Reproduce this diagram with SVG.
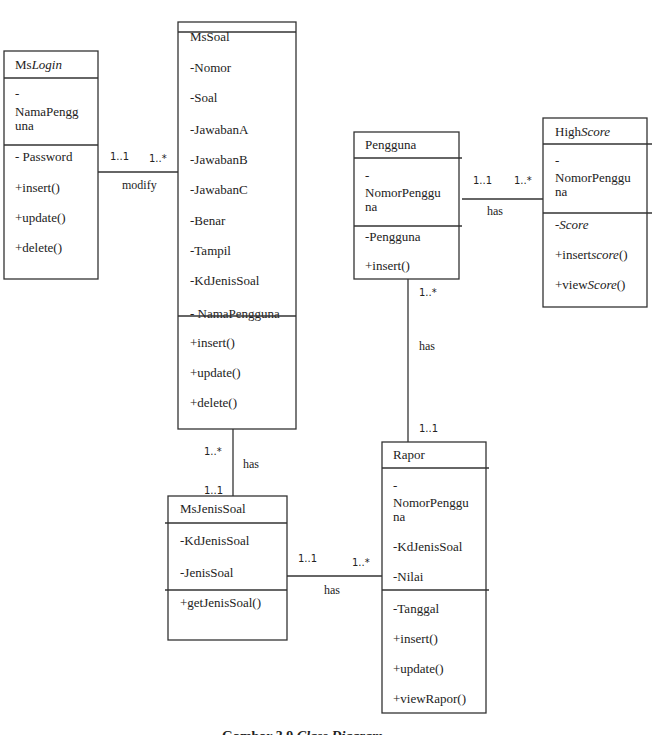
<svg xmlns="http://www.w3.org/2000/svg" width="654" height="735" viewBox="0 0 654 735">
<style>
.box{fill:#fff;stroke:#333;stroke-width:1.3}
.ln{stroke:#333;stroke-width:1.3;fill:none}
.t{font-family:"Liberation Serif","Times New Roman",serif;font-size:13px;fill:#222}
.m{font-family:"DejaVu Sans","Liberation Sans",sans-serif;font-size:10px;fill:#222}
.cap{font-family:"Liberation Serif","Times New Roman",serif;font-size:14px;font-weight:bold;fill:#222}
</style>
<rect width="654" height="735" fill="#fff"/>
<g id="connectors">
<line class="ln" x1="98" y1="172" x2="178" y2="172"/>
<text class="m" x="110" y="160">1..1</text>
<text class="m" x="149" y="162">1..*</text>
<text class="t" x="122" y="189" style="font-size:12px">modify</text>
<line class="ln" x1="233" y1="429" x2="233" y2="496"/>
<text class="m" x="204" y="455">1..*</text>
<text class="t" x="243" y="468" style="font-size:12px">has</text>
<text class="m" x="204" y="494">1..1</text>
<line class="ln" x1="287" y1="576" x2="382" y2="576"/>
<text class="m" x="298" y="562">1..1</text>
<text class="m" x="352" y="566">1..*</text>
<text class="t" x="324" y="594" style="font-size:12px">has</text>
<line class="ln" x1="462" y1="199" x2="543" y2="199"/>
<text class="m" x="473" y="184">1..1</text>
<text class="m" x="514" y="184">1..*</text>
<text class="t" x="487" y="215" style="font-size:12px">has</text>
<line class="ln" x1="408" y1="279" x2="408" y2="442"/>
<text class="m" x="419" y="296">1..*</text>
<text class="t" x="419" y="350" style="font-size:12px">has</text>
<text class="m" x="419" y="432">1..1</text>
</g>
<g id="MsLogin">
<rect class="box" x="4" y="51" width="94" height="228"/>
<line class="ln" x1="4" y1="78" x2="98" y2="78"/>
<line class="ln" x1="4" y1="145" x2="98" y2="145"/>
<text class="t" x="15" y="69">Ms<tspan font-style="italic">Login</tspan></text>
<text class="t" x="15" y="98">-</text>
<text class="t" x="15" y="116">NamaPengg</text>
<text class="t" x="15" y="130">una</text>
<text class="t" x="15" y="161">- Password</text>
<text class="t" x="15" y="192">+insert()</text>
<text class="t" x="15" y="222">+update()</text>
<text class="t" x="15" y="252">+delete()</text>
</g>
<g id="MsSoal">
<rect class="box" x="178" y="22" width="118" height="407"/>
<line class="ln" x1="178" y1="32" x2="296" y2="32"/>
<text class="t" x="190" y="41">MsSoal</text>
<text class="t" x="190" y="72">-Nomor</text>
<text class="t" x="190" y="102">-Soal</text>
<text class="t" x="190" y="134">-JawabanA</text>
<text class="t" x="190" y="164">-JawabanB</text>
<text class="t" x="190" y="194">-JawabanC</text>
<text class="t" x="190" y="225">-Benar</text>
<text class="t" x="190" y="255">-Tampil</text>
<text class="t" x="190" y="285">-KdJenisSoal</text>
<text class="t" x="190" y="318">- NamaPengguna</text>
<line class="ln" x1="178" y1="316" x2="296" y2="316"/>
<text class="t" x="190" y="347">+insert()</text>
<text class="t" x="190" y="377">+update()</text>
<text class="t" x="190" y="407">+delete()</text>
</g>
<g id="Pengguna">
<rect class="box" x="354" y="132" width="105" height="147"/>
<line class="ln" x1="354" y1="158" x2="462" y2="158"/>
<line class="ln" x1="354" y1="226" x2="462" y2="226"/>
<text class="t" x="365" y="149">Pengguna</text>
<text class="t" x="365" y="180">-</text>
<text class="t" x="365" y="197">NomorPenggu</text>
<text class="t" x="365" y="211">na</text>
<text class="t" x="365" y="241">-Pengguna</text>
<text class="t" x="365" y="270">+insert()</text>
</g>
<g id="HighScore">
<rect class="box" x="543" y="118" width="104" height="189"/>
<line class="ln" x1="543" y1="144" x2="652" y2="144"/>
<line class="ln" x1="543" y1="213" x2="652" y2="213"/>
<text class="t" x="555" y="136">High<tspan font-style="italic">Score</tspan></text>
<text class="t" x="555" y="165">-</text>
<text class="t" x="555" y="182">NomorPenggu</text>
<text class="t" x="555" y="196">na</text>
<text class="t" x="555" y="229">-<tspan font-style="italic">Score</tspan></text>
<text class="t" x="555" y="259">+insert<tspan font-style="italic">score</tspan>()</text>
<text class="t" x="555" y="289">+view<tspan font-style="italic">Score</tspan>()</text>
</g>
<g id="MsJenisSoal">
<rect class="box" x="168" y="496" width="119" height="144"/>
<line class="ln" x1="165" y1="523" x2="287" y2="523"/>
<line class="ln" x1="165" y1="590" x2="287" y2="590"/>
<text class="t" x="180" y="513">MsJenisSoal</text>
<text class="t" x="180" y="545">-KdJenisSoal</text>
<text class="t" x="180" y="577">-JenisSoal</text>
<text class="t" x="180" y="607">+getJenisSoal()</text>
</g>
<g id="Rapor">
<rect class="box" x="382" y="442" width="104" height="271"/>
<line class="ln" x1="382" y1="468" x2="489" y2="468"/>
<line class="ln" x1="382" y1="590" x2="489" y2="590"/>
<text class="t" x="393" y="459">Rapor</text>
<text class="t" x="393" y="490">-</text>
<text class="t" x="393" y="507">NomorPenggu</text>
<text class="t" x="393" y="521">na</text>
<text class="t" x="393" y="551">-KdJenisSoal</text>
<text class="t" x="393" y="581">-Nilai</text>
<text class="t" x="393" y="613">-Tanggal</text>
<text class="t" x="393" y="643">+insert()</text>
<text class="t" x="393" y="673">+update()</text>
<text class="t" x="393" y="703">+viewRapor()</text>
</g>
<text class="cap" x="222" y="741">Gambar 3.9 <tspan font-style="italic">Class Diagram</tspan></text>
</svg>
